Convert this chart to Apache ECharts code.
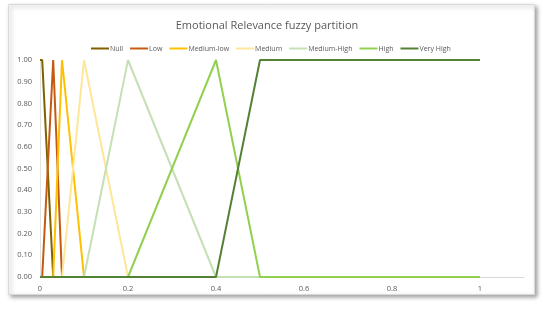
<!DOCTYPE html>
<html><head><meta charset="utf-8">
<script src="https://cdn.jsdelivr.net/npm/echarts@6/dist/echarts.min.js"></script>
<style>html,body{margin:0;padding:0;background:#fff}#c{width:550px;height:310px}</style>
</head><body><div id="c"></div>
<script>
const seriesNames = ['Null','Low','Medium-low','Medium','Medium-High','High','Very High'];
const colors = ['#806000','#c55a11','#ffc000','#ffe699','#c5e0b4','#92d050','#548235'];
const nullX = [0, 0.005, 0.03, 1];        const nullY = [1, 1, 0, 0];
const lowX = [0, 0.005, 0.03, 0.05, 1];   const lowY = [0, 0, 1, 0, 0];
const medLowX = [0, 0.03, 0.05, 0.1, 1];  const medLowY = [0, 0, 1, 0, 0];
const mediumX = [0, 0.05, 0.1, 0.2, 1];   const mediumY = [0, 0, 1, 0, 0];
const medHighX = [0, 0.1, 0.2, 0.4, 1];   const medHighY = [0, 0, 1, 0, 0];
const highX = [0, 0.2, 0.4, 0.5, 1];      const highY = [0, 0, 1, 0, 0];
const veryHighX = [0, 0.4, 0.5, 1];       const veryHighY = [0, 0, 1, 1];
const xs = [nullX, lowX, medLowX, mediumX, medHighX, highX, veryHighX];
const ys = [nullY, lowY, medLowY, mediumY, medHighY, highY, veryHighY];
const xTicks = ['0','0.2','0.4','0.6','0.8','1'];

const chart = echarts.init(document.getElementById('c'), null, {renderer:'canvas'});
const font = '"Open Sans", sans-serif';
chart.setOption({
  animation:false,
  backgroundColor:'#fff',
  graphic:[{type:'rect',left:8,top:4,z:-10,shape:{width:526,height:290},
    style:{fill:'#fff',stroke:'#d9d9d9',lineWidth:1,shadowBlur:4,shadowOffsetX:2,shadowOffsetY:2,shadowColor:'rgba(0,0,0,0.35)'}}],
  title:{text:'Emotional Relevance fuzzy partition',left:262,textAlign:'center',top:15,
    textStyle:{fontFamily:font,fontSize:11,fontWeight:'normal',color:'#595959'}},
  legend:{top:40,left:86,itemWidth:18,itemHeight:2,itemGap:7,icon:'rect',
    textStyle:{fontFamily:font,fontSize:7,color:'#595959',padding:[0,0,0,-4]},
    data:seriesNames},
  grid:{left:40,right:26,top:60,bottom:33},
  xAxis:{type:'value',min:0,max:1.1,interval:0.2,
    axisLine:{lineStyle:{color:'#d9d9d9'}},axisTick:{show:false},splitLine:{show:false},
    axisLabel:{showMaxLabel:false,fontFamily:font,fontSize:7.5,color:'#595959',margin:8,
      formatter:(v)=>{const i=Math.round(v/0.2);return (Math.abs(v-i*0.2)<1e-6 && i<xTicks.length)?xTicks[i]:'';}}},
  yAxis:{type:'value',min:0,max:1,interval:0.1,
    axisLine:{show:true,lineStyle:{color:'#e3e3e3'}},axisTick:{show:false},splitLine:{show:false},
    axisLabel:{fontFamily:font,fontSize:7.5,color:'#595959',margin:8,formatter:(v)=>v.toFixed(2)}},
  series: seriesNames.map((n,i)=>({
    name:n,type:'line',showSymbol:false,symbol:'none',color:colors[i],
    lineStyle:{width:2,color:colors[i]},
    data: xs[i].map((x,j)=>[x,ys[i][j]])
  }))
});
</script></body></html>
